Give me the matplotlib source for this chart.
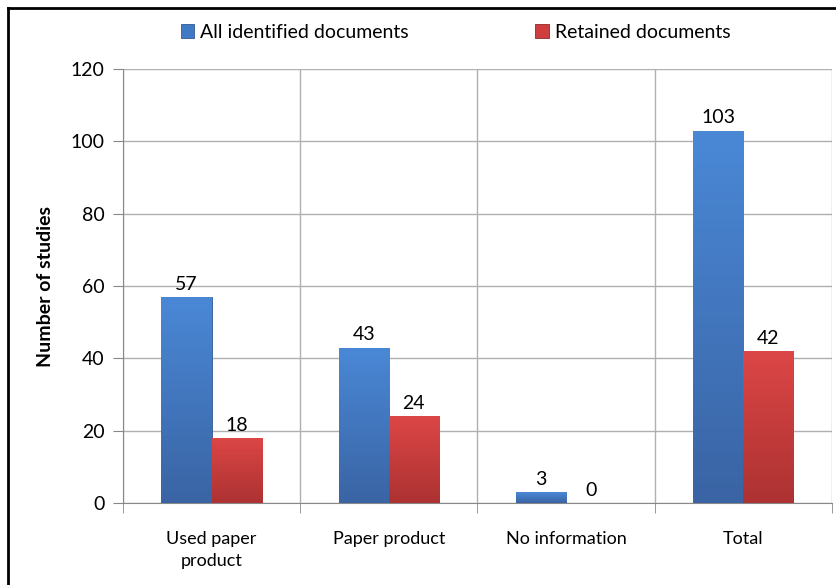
import matplotlib
matplotlib.use("Agg")
import matplotlib.pyplot as plt
import numpy as np
from matplotlib.colors import LinearSegmentedColormap
from matplotlib.lines import Line2D

categories = ["Used paper\nproduct", "Paper product", "No information", "Total"]
all_docs = [57, 43, 3, 103]
retained = [18, 24, 0, 42]
series_names = ["All identified documents", "Retained documents"]

plt.rcParams["font.family"] = ["Lato", "DejaVu Sans"]

fig = plt.figure(figsize=(8.36, 5.85), dpi=100)
ax = fig.add_axes([0.147, 0.140, 0.848, 0.742])

x = np.arange(len(categories))
w = 0.283

blue_cmap = LinearSegmentedColormap.from_list("b", ["#3a64a4", "#4a88d6"])
red_cmap = LinearSegmentedColormap.from_list("r", ["#ad3232", "#dc4646"])

bars1 = ax.bar(x - w / 2, all_docs, w, color="#4079c4", edgecolor="#2f5a94",
               linewidth=0.6, label=series_names[0], zorder=3)
bars2 = ax.bar(x + w / 2, retained, w, color="#cf3e3e", edgecolor="#8f2a2a",
               linewidth=0.6, label=series_names[1], zorder=3)

# gradient fill inside each bar
grad = np.linspace(0, 1, 100).reshape(-1, 1)
for bars, cmap in [(bars1, blue_cmap), (bars2, red_cmap)]:
    for b in bars:
        if b.get_height() <= 0:
            continue
        x0, y0 = b.get_x(), b.get_y()
        im = ax.imshow(grad, cmap=cmap, aspect="auto", origin="lower",
                       extent=[x0, x0 + b.get_width(), y0, y0 + b.get_height()],
                       zorder=3.5)
        im.set_clip_path(b)

for bars, vals in [(bars1, all_docs), (bars2, retained)]:
    for b, v in zip(bars, vals):
        ax.text(b.get_x() + b.get_width() / 2, v + 1.2, str(v), ha="center",
                va="bottom", fontsize=14, zorder=5)

ax.set_xlim(-0.5, len(categories) - 0.5)
ax.set_ylim(0, 120)
ax.set_yticks(np.arange(0, 121, 20))
ax.tick_params(axis="y", labelsize=14, length=7, color="#888888", pad=6)
ax.set_xticks(x)
ax.set_xticklabels(categories, fontsize=13, linespacing=1.5)
ax.tick_params(axis="x", length=0, pad=20)
ax.set_xticks(np.arange(-0.5, len(categories), 1), minor=True)
ax.tick_params(axis="x", which="minor", length=7, color="#888888")

ax.grid(axis="y", color="#b0b0b0", linewidth=1, zorder=0)
ax.grid(axis="x", which="minor", color="#b0b0b0", linewidth=1, zorder=0)
for s in ["top", "right"]:
    ax.spines[s].set_visible(False)
for s in ["left", "bottom"]:
    ax.spines[s].set_color("#888888")

ax.set_ylabel("Number of studies", fontsize=14, fontweight="bold", labelpad=12)

h1, l1 = ax.get_legend_handles_labels()
fig.legend(h1, l1, loc="center", bbox_to_anchor=(0.545, 1 - 32 / 585), ncol=2,
           frameon=False, fontsize=14, handlelength=0.7, handleheight=0.7,
           handletextpad=0.3, columnspacing=6.5)

# outer frame (only left and top visible in the image)
fig.add_artist(Line2D([8 / 836, 8 / 836], [0, 1 - 8 / 585], color="black",
                      linewidth=2, transform=fig.transFigure))
fig.add_artist(Line2D([8 / 836, 1], [1 - 8 / 585, 1 - 8 / 585], color="black",
                      linewidth=2, transform=fig.transFigure))

fig.savefig("out.png", dpi=100)
